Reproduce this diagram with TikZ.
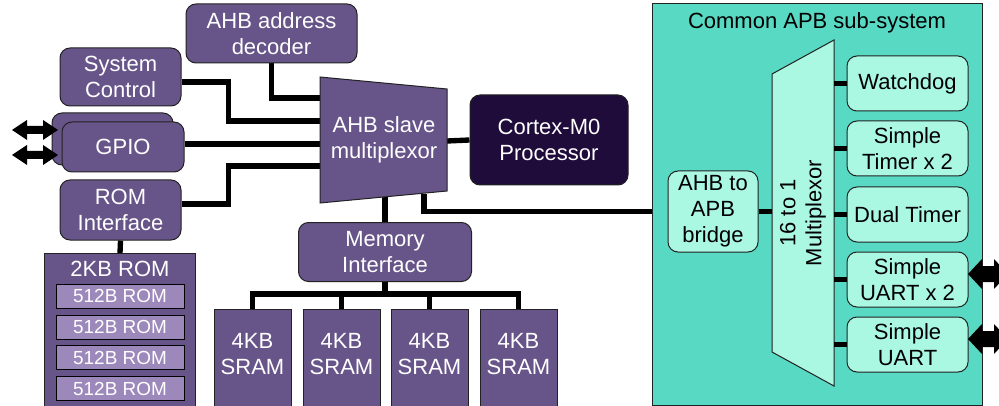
\documentclass[tikz,border=0pt]{standalone}
\usepackage{fontspec}
\setmainfont{Liberation Sans}
\usetikzlibrary{backgrounds}
\definecolor{ppl}{HTML}{67558A}
\definecolor{lppl}{HTML}{9C88BA}
\definecolor{cpucol}{HTML}{200C3B}
\definecolor{tealbg}{HTML}{57D9C3}
\definecolor{lteal}{HTML}{AAF7E2}
\definecolor{edge}{HTML}{222222}
\begin{document}
\begin{tikzpicture}[x=0.75pt,y=-0.75pt,
  mainfont/.style={font=\fontsize{16.5}{19.5}\selectfont},
  smallfont/.style={font=\fontsize{14.2}{16}\selectfont},
  sz/.style 2 args={minimum width=#1*0.75pt, minimum height=#2*0.75pt},
  pbox/.style={draw=edge, line width=0.75pt, fill=ppl, text=white, rounded corners=7.5pt, align=center, inner sep=0pt, mainfont},
  dbox/.style={pbox, fill=cpucol},
  sqbox/.style={draw=edge, line width=0.75pt, fill=ppl, inner sep=0pt},
  lbox/.style={draw=black, line width=0.75pt, fill=lppl, text=white, inner sep=0pt, smallfont},
  tbox/.style={draw=edge, line width=0.75pt, fill=lteal, text=black, rounded corners=7.5pt, align=center, inner sep=0pt, mainfont},
  bus/.style={line width=4pt, draw=black, line join=miter},
  gpioarrow/.pic={\fill[black] (-23,0) -- (-8,-10) -- (-8,-4) -- (8,-4) -- (8,-10) -- (23,0) -- (8,10) -- (8,4) -- (-8,4) -- (-8,10) -- cycle;},
  uartarrow/.pic={\fill[black] (-20,0) -- (-6,-15) -- (-6,-8) -- (6,-8) -- (6,-15) -- (20,0) -- (6,15) -- (6,8) -- (-6,8) -- (-6,15) -- cycle;}
]
\useasboundingbox (0,0) rectangle (999,406);
\clip (0,0) rectangle (999,406);

% ---- left side blocks
\node[pbox, sz={171}{59}] (dec) at (271.5,33.5) {AHB address\\decoder};
\node[pbox, sz={121}{58}] (sys) at (120.5,77) {System\\Control};
\node[pbox, sz={121}{52}] (gpioB) at (112.5,139) {};
\node[pbox, sz={122}{50}] (gpio) at (123,147) {GPIO};
\node[pbox, sz={121}{60}] (romif) at (120.5,210) {ROM\\Interface};

\node[sqbox, sz={151}{170}, anchor=north] (rom) at (120,253) {};
\node[text=white, mainfont] (romlbl) at (120,269) {2KB ROM};
\node[lbox, sz={128}{24}] (r1) at (120,296) {512B ROM};
\node[lbox, sz={128}{24}] (r2) at (120,327) {512B ROM};
\node[lbox, sz={128}{24}] (r3) at (120,357.5) {512B ROM};
\node[lbox, sz={128}{24}] (r4) at (120,388.5) {512B ROM};

% ---- AHB slave multiplexor
\draw[draw=edge, line width=0.75pt, fill=ppl] (320,77) -- (447,89) -- (447,191) -- (320,203) -- cycle;
\node[text=white, mainfont, align=center] (mux) at (384,140) {AHB slave\\multiplexor};
\coordinate (mL1) at (320,98);
\coordinate (mL2) at (320,121);
\coordinate (mL3) at (320,144);
\coordinate (mL4) at (320,166);
\coordinate (mR) at (447,141);
\coordinate (mB1) at (385,197);
\coordinate (mB2) at (424,194);

\node[dbox, sz={158}{90}] (cpu) at (549,140) {Cortex-M0\\Processor};
\node[pbox, sz={173}{59}] (memif) at (385,252) {Memory\\Interface};

% ---- SRAMs
\node[sqbox, sz={77}{110}, anchor=north] (s1) at (252.5,309) {};
\node[sqbox, sz={77}{110}, anchor=north] (s2) at (341.5,309) {};
\node[sqbox, sz={77}{110}, anchor=north] (s3) at (429.5,309) {};
\node[sqbox, sz={77}{110}, anchor=north] (s4) at (518.5,309) {};
\node[text=white, mainfont, align=center] (s1t) at (252.5,354.5) {4KB\\SRAM};
\node[text=white, mainfont, align=center] (s2t) at (341.5,354.5) {4KB\\SRAM};
\node[text=white, mainfont, align=center] (s3t) at (429.5,354.5) {4KB\\SRAM};
\node[text=white, mainfont, align=center] (s4t) at (518.5,354.5) {4KB\\SRAM};

% ---- APB sub-system
\node[draw=edge, line width=0.9pt, fill=tealbg, sz={330}{402}, anchor=north west, inner sep=0pt] (apb) at (652,3) {};
\node[mainfont, text=black] (apbt) at (817,23) {Common APB sub-system};
\node[tbox, sz={90}{81}] (bridge) at (713,211.5) {AHB to\\APB\\bridge};
\draw[draw=edge, line width=0.75pt, fill=lteal] (772,74) -- (834,40) -- (834,386) -- (772,352) -- cycle;
\node[mainfont, text=black, align=center, rotate=90] (mux2) at (803,213) {16 to 1\\Multiplexor};
\coordinate (m2L) at (772,211.5);
\node[tbox, sz={121}{55}] (wd) at (907.5,83.5) {Watchdog};
\node[tbox, sz={121}{55}] (tim) at (907.5,148.5) {Simple\\Timer x 2};
\node[tbox, sz={121}{55}] (dual) at (907.5,214.5) {Dual Timer};
\node[tbox, sz={121}{55}] (uart2) at (907.5,279.5) {Simple\\UART x 2};
\node[tbox, sz={121}{55}] (uart) at (907.5,344.5) {Simple\\UART};
\coordinate (p1) at (834,83.5);
\coordinate (p2) at (834,148.5);
\coordinate (p3) at (834,214.5);
\coordinate (p4) at (834,279.5);
\coordinate (p5) at (834,344.5);

% ---- connectors (behind)
\begin{pgfonlayer}{background}
\draw[bus] (dec.south) |- (mL1);
\draw[bus] ([yshift=-3.75pt]sys.east) -- ++(47,0) |- (mL2);
\draw[bus] (gpio.east |- mL3) -- (mL3);
\draw[bus] ([yshift=4.5pt]romif.east) -- ++(47,0) |- (mL4);
\draw[bus] (romif.south) -- (rom.north);
\draw[bus] (mR) -- (cpu.west);
\draw[bus] (mB1) -- (memif.north);
\draw[bus] (mB2) |- (bridge.west);
\draw[bus] (memif.south) -- ++(0,12) coordinate (busC);
\draw[bus] (s1.north) |- (busC) -| (s4.north);
\draw[bus] (s2.north) -- (s2.north |- busC);
\draw[bus] (s3.north) -- (s3.north |- busC);
\end{pgfonlayer}
\draw[bus] (bridge.east) -- (m2L);
\draw[bus] (p1) -- (wd.west);
\draw[bus] (p2) -- (tim.west);
\draw[bus] (p3) -- (dual.west);
\draw[bus] (p4) -- (uart2.west);
\draw[bus] (p5) -- (uart.west);

% ---- I/O arrows
\pic at (35,130) {gpioarrow};
\pic at (35,155) {gpioarrow};
\pic at (988,274) {uartarrow};
\pic at (988,339) {uartarrow};
\end{tikzpicture}
\end{document}
